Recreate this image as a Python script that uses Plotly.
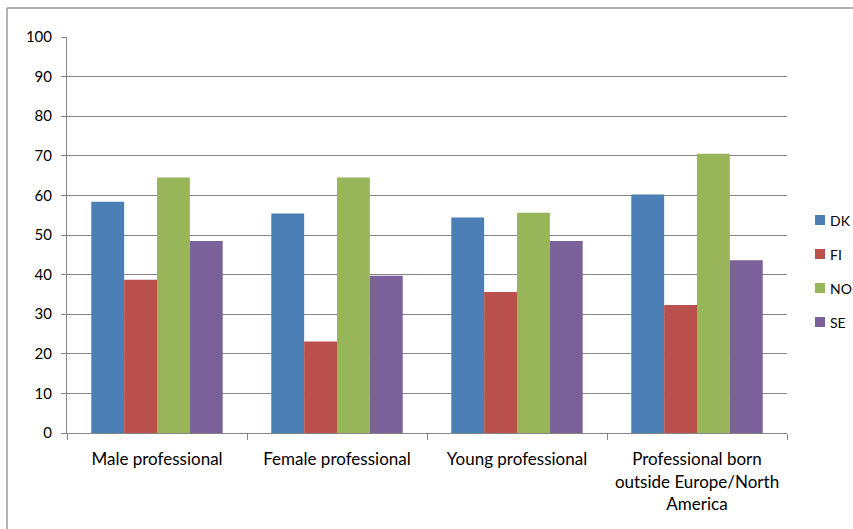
import plotly.graph_objects as go

categories = ["Male professional", "Female professional", "Young professional",
              "Professional born<br>outside Europe/North<br>America"]
series_names = ["DK", "FI", "NO", "SE"]
dk = [58.4, 55.4, 54.4, 60.2]
fi = [38.7, 23.1, 35.6, 32.3]
no = [64.5, 64.5, 55.6, 70.5]
se = [48.5, 39.7, 48.5, 43.6]
colors = ["#4A7EB5", "#B9504C", "#98B55A", "#7A619A"]

fig = go.Figure()
for name, vals, col in zip(series_names, [dk, fi, no, se], colors):
    fig.add_trace(go.Bar(x=categories, y=vals, name=name, marker_color=col,
                         marker_line_width=0, showlegend=False))

W, H = 853, 529
L, R, T, B = 67, 787, 37, 433
pw, ph = R - L, B - T

def px(x):
    return (x - L) / pw

def py(y):
    return (B - y) / ph

FONT = "Lato, Open Sans, sans-serif"

# manual legend (squares + labels) at the right side
shapes = [
    dict(type="line", xref="paper", yref="paper", x0=px(7), x1=px(860),
         y0=py(8), y1=py(8), line=dict(color="#9A9A9A", width=1.5)),
    dict(type="line", xref="paper", yref="paper", x0=px(7), x1=px(7),
         y0=py(8), y1=py(540), line=dict(color="#9A9A9A", width=1.5)),
]
annotations = []
leg_y0, leg_step = 220, 34
for i, (name, col) in enumerate(zip(series_names, colors)):
    cy = leg_y0 + i * leg_step
    shapes.append(dict(type="rect", xref="paper", yref="paper",
                       x0=px(815), x1=px(825), y0=py(cy - 5), y1=py(cy + 5),
                       fillcolor=col, line=dict(width=0)))
    annotations.append(dict(text=name, xref="paper", yref="paper",
                            x=px(828), y=py(cy), xanchor="left", yanchor="middle",
                            showarrow=False, font=dict(family=FONT, size=14, color="#000000")))

fig.update_layout(
    width=W, height=H,
    margin=dict(l=L, r=W - R, t=T, b=H - B, autoexpand=False),
    paper_bgcolor="white", plot_bgcolor="white",
    barmode="group", bargap=0.27, bargroupgap=0,
    font=dict(family=FONT, size=15, color="#000000"),
    showlegend=False,
    xaxis=dict(showline=True, linecolor="#868686", linewidth=1,
               ticks="outside", tickson="boundaries", ticklen=6, tickcolor="#868686",
               tickfont=dict(size=17), ticklabelstandoff=11,
               showgrid=False, fixedrange=True),
    yaxis=dict(range=[0, 100], dtick=10, showline=True, linecolor="#868686", linewidth=1,
               ticks="outside", ticklen=5, tickcolor="#868686",
               showgrid=True, gridcolor="#868686", gridwidth=1,
               tickfont=dict(size=15), ticklabelstandoff=6, zeroline=False),
    shapes=shapes,
    annotations=annotations,
)

fig.write_html("out.html")
